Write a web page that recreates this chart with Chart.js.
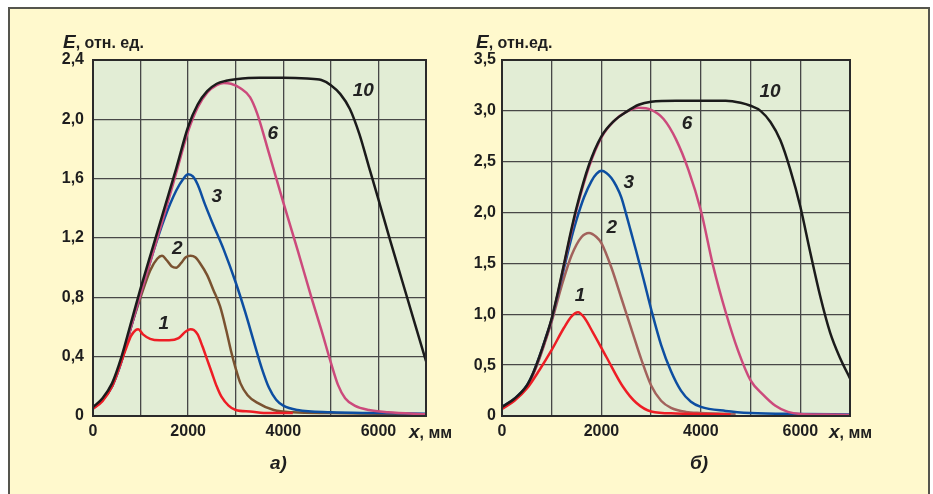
<!DOCTYPE html>
<html>
<head>
<meta charset="utf-8">
<script src="https://cdn.jsdelivr.net/npm/chart.js@4/dist/chart.umd.min.js"></script>
<style>
  body { margin: 0; background: #ffffff; width: 933px; height: 494px; overflow: hidden; position: relative; font-family: "Liberation Sans", Arial, sans-serif; }
  #frame { position: absolute; left: 8px; top: 7px; width: 918px; height: 500px; background: #fff9cd; border: 2px solid #55554d; }
  canvas { position: absolute; top: 0; }
  .txt { position: absolute; font-weight: bold; font-size: 16px; color: #1e1e1e; white-space: nowrap; line-height: 20px; }
  .txt i { font-size: 19px; }
</style>
</head>
<body>
<div id="frame"></div>
<canvas id="chart-a" width="466" height="494" style="left:0"></canvas>
<canvas id="chart-b" width="467" height="494" style="left:466px"></canvas>

<div class="txt" style="left:63px; top:32px"><i>E</i>, отн. ед.</div>
<div class="txt" style="left:476px; top:32px"><i>E</i>, отн.ед.</div>
<div class="txt" style="left:409px; top:422px"><i>x</i>, мм</div>
<div class="txt" style="left:829px; top:422px"><i>x</i>, мм</div>
<div class="txt" style="left:270px; top:453px"><i>а)</i></div>
<div class="txt" style="left:690px; top:453px"><i>б)</i></div>

<script>
"use strict"

// ---- chart а) ----
const aYTicks = ['0', '0,4', '0,8', '1,2', '1,6', '2,0', '2,4'];
const xTicks = ['0', '2000', '4000', '6000'];

const a10X = [0, 200, 400, 600, 800, 1000, 1250, 1500, 1750, 2000, 2200, 2400, 2600, 2800, 3000, 3500, 4000, 4500, 4800, 5000, 5200, 5400, 5600, 5800, 6000, 6250, 6500, 6750, 7000];
const a10E = [0.06, 0.12, 0.22, 0.40, 0.63, 0.86, 1.13, 1.40, 1.67, 1.95, 2.10, 2.19, 2.24, 2.26, 2.27, 2.28, 2.28, 2.275, 2.265, 2.23, 2.17, 2.07, 1.90, 1.68, 1.46, 1.18, 0.91, 0.64, 0.37];

const a6X = [0, 200, 400, 600, 800, 1000, 1250, 1500, 1750, 2000, 2200, 2400, 2600, 2750, 2900, 3100, 3300, 3450, 3700, 4000, 4300, 4600, 4800, 5000, 5150, 5300, 5500, 5800, 6200, 7000];
const a6E = [0.05, 0.11, 0.20, 0.37, 0.60, 0.82, 1.09, 1.36, 1.64, 1.92, 2.08, 2.18, 2.23, 2.245, 2.24, 2.21, 2.15, 2.04, 1.77, 1.44, 1.12, 0.79, 0.58, 0.36, 0.21, 0.12, 0.07, 0.04, 0.025, 0.012];

const a3X = [0, 200, 400, 600, 800, 1000, 1250, 1500, 1750, 1900, 2000, 2100, 2200, 2350, 2500, 2750, 3000, 3200, 3400, 3550, 3700, 3850, 4000, 4300, 5000, 6000, 7000];
const a3E = [0.05, 0.11, 0.20, 0.37, 0.60, 0.82, 1.09, 1.33, 1.52, 1.60, 1.63, 1.615, 1.56, 1.43, 1.31, 1.12, 0.90, 0.70, 0.48, 0.32, 0.19, 0.11, 0.07, 0.04, 0.025, 0.02, 0.015];

const a2X = [0, 200, 400, 600, 800, 1000, 1200, 1350, 1450, 1550, 1650, 1750, 1850, 1950, 2050, 2150, 2250, 2400, 2530, 2670, 2800, 2900, 3000, 3100, 3250, 3450, 3800, 4200, 5000, 6000, 7000];
const a2E = [0.05, 0.11, 0.20, 0.37, 0.60, 0.80, 0.98, 1.06, 1.08, 1.05, 1.01, 1.00, 1.03, 1.07, 1.08, 1.07, 1.03, 0.95, 0.85, 0.74, 0.58, 0.44, 0.32, 0.22, 0.14, 0.09, 0.04, 0.025, 0.02, 0.015, 0.01];

const a1X = [0, 200, 400, 550, 700, 800, 900, 950, 1050, 1200, 1400, 1600, 1800, 1950, 2050, 2120, 2200, 2300, 2400, 2500, 2600, 2700, 2850, 3000, 3300, 3700, 4200];
const a1E = [0.05, 0.10, 0.20, 0.33, 0.46, 0.54, 0.58, 0.585, 0.55, 0.52, 0.51, 0.51, 0.525, 0.57, 0.585, 0.58, 0.55, 0.47, 0.38, 0.29, 0.20, 0.13, 0.07, 0.04, 0.03, 0.02, 0.02];

const aLabelText = ['10', '6', '3', '2', '1'];
const aLabelX = [5680, 3780, 2600, 1770, 1490];
const aLabelE = [2.19, 1.90, 1.48, 1.13, 0.62];

// ---- chart б) ----
const bYTicks = ['0', '0,5', '1,0', '1,5', '2,0', '2,5', '3,0', '3,5'];

const b10X = [0, 250, 500, 625, 750, 875, 1000, 1125, 1250, 1375, 1500, 1750, 2000, 2250, 2500, 2750, 3000, 3500, 4000, 4500, 4800, 5000, 5200, 5400, 5600, 5800, 6000, 6200, 6400, 6600, 6800, 7000];
const b10E = [0.09, 0.17, 0.30, 0.42, 0.58, 0.76, 0.96, 1.22, 1.50, 1.79, 2.05, 2.47, 2.75, 2.90, 2.99, 3.06, 3.09, 3.10, 3.10, 3.10, 3.08, 3.05, 3.00, 2.89, 2.71, 2.42, 2.06, 1.61, 1.18, 0.82, 0.57, 0.37];

const b6X = [0, 250, 500, 625, 750, 875, 1000, 1125, 1250, 1375, 1500, 1750, 2000, 2250, 2500, 2750, 3000, 3250, 3500, 3750, 4000, 4250, 4500, 4750, 5000, 5250, 5500, 5750, 6000, 6500, 7000];
const b6E = [0.08, 0.16, 0.29, 0.41, 0.57, 0.75, 0.95, 1.21, 1.49, 1.77, 2.03, 2.45, 2.74, 2.90, 2.99, 3.03, 3.01, 2.92, 2.72, 2.42, 2.02, 1.47, 1.02, 0.64, 0.35, 0.21, 0.10, 0.04, 0.02, 0.015, 0.01];

const b3X = [0, 250, 500, 625, 750, 875, 1000, 1125, 1250, 1375, 1500, 1650, 1800, 1900, 2000, 2100, 2200, 2300, 2400, 2500, 2600, 2700, 2850, 3000, 3200, 3400, 3600, 3800, 4000, 4500, 5000, 6000, 7000];
const b3E = [0.09, 0.17, 0.30, 0.42, 0.58, 0.76, 0.95, 1.20, 1.46, 1.71, 1.93, 2.15, 2.31, 2.38, 2.41, 2.39, 2.34, 2.26, 2.15, 1.98, 1.80, 1.62, 1.34, 1.05, 0.70, 0.44, 0.25, 0.14, 0.09, 0.05, 0.03, 0.02, 0.015];

const b2X = [0, 250, 500, 625, 750, 875, 1000, 1200, 1400, 1600, 1750, 1900, 2000, 2200, 2400, 2600, 2800, 3000, 3200, 3400, 3700, 4000, 4700];
const b2E = [0.08, 0.16, 0.29, 0.41, 0.56, 0.74, 0.93, 1.28, 1.58, 1.76, 1.80, 1.76, 1.70, 1.46, 1.16, 0.86, 0.56, 0.30, 0.15, 0.08, 0.04, 0.03, 0.02];

const b1X = [0, 250, 500, 750, 1000, 1250, 1400, 1530, 1650, 1830, 2100, 2430, 2700, 3000, 3500, 4000, 4600];
const b1E = [0.07, 0.15, 0.27, 0.45, 0.65, 0.87, 0.98, 1.02, 0.97, 0.82, 0.58, 0.29, 0.13, 0.045, 0.025, 0.02, 0.015];

const bLabelText = ['10', '6', '3', '2', '1'];
const bLabelX = [5390, 3720, 2550, 2210, 1570];
const bLabelE = [3.19, 2.87, 2.29, 1.85, 1.18];

const FONT = '"Liberation Sans", Arial, sans-serif';

function pts(xs, es) {
    return xs.map((x, i) => ({ x: x, y: es[i] }));
}

function line(xs, es, color) {
    return {
        data: pts(xs, es),
        borderColor: color,
        borderWidth: 2.5,
        pointRadius: 0,
        fill: false,
        cubicInterpolationMode: 'monotone'
    };
}

/**
 * Green plot background, dark frame and the curve numbers
 */
const plotDecor = {
    id: 'plotDecor',
    beforeDraw(chart) {
        const a = chart.chartArea;
        const ctx = chart.ctx;
        ctx.save();
        ctx.fillStyle = '#e2edd5';
        ctx.fillRect(a.left, a.top, a.right - a.left, a.bottom - a.top);
        ctx.restore();
    },
    afterDatasetsDraw(chart, args, opts) {
        const ctx = chart.ctx;
        const a = chart.chartArea;
        ctx.save();
        ctx.strokeStyle = '#2a2a2a';
        ctx.lineWidth = 2;
        ctx.strokeRect(a.left, a.top, a.right - a.left, a.bottom - a.top);

        ctx.fillStyle = '#222';
        ctx.font = 'italic bold 19px ' + FONT;
        ctx.textAlign = 'center';
        ctx.textBaseline = 'middle';
        opts.text.forEach((t, i) => {
            const px = chart.scales.x.getPixelForValue(opts.xs[i]);
            const py = chart.scales.y.getPixelForValue(opts.es[i]);
            ctx.fillText(t, px, py);
        });
        ctx.restore();
    }
};

function makeChart(id, datasets, yMax, yStep, yTicks, yWidth, yPad, padRight, labels) {
    return new Chart(document.getElementById(id), {
        type: 'line',
        data: { datasets: datasets },
        options: {
            responsive: false,
            animation: false,
            devicePixelRatio: 1,
            layout: { padding: { left: 0, right: padRight, top: 60, bottom: 0 } },
            plugins: {
                legend: { display: false },
                tooltip: { enabled: false },
                plotDecor: labels
            },
            scales: {
                x: {
                    type: 'linear',
                    min: 0,
                    max: 7000,
                    afterFit: s => { s.height = 78; },
                    afterBuildTicks: s => { s.ticks = [0, 1000, 2000, 3000, 4000, 5000, 6000, 7000].map(v => ({ value: v })); },
                    grid: { color: '#474747', lineWidth: 1.3, drawTicks: false },
                    border: { display: false },
                    ticks: {
                        padding: 6,
                        color: '#1e1e1e',
                        font: { family: FONT, size: 16, weight: 'bold' },
                        maxRotation: 0,
                        autoSkip: false,
                        callback: v => xTicks[xTicks.indexOf(String(v))] || ''
                    }
                },
                y: {
                    min: 0,
                    max: yMax,
                    afterFit: s => { s.width = yWidth; },
                    grid: { color: '#474747', lineWidth: 1.3, drawTicks: false },
                    border: { display: false },
                    ticks: {
                        stepSize: yStep,
                        padding: yPad,
                        color: '#1e1e1e',
                        font: { family: FONT, size: 16, weight: 'bold' },
                        callback: (v, i) => yTicks[i]
                    }
                }
            }
        },
        plugins: [plotDecor]
    });
}

makeChart('chart-a', [
    line(a10X, a10E, '#1b1b1b'),
    line(a1X, a1E, '#ee1d25'),
    line(a6X, a6E, '#cc4a7c'),
    line(a3X, a3E, '#0d4ea1'),
    line(a2X, a2E, '#7a5230')
], 2.4, 0.4, aYTicks, 93, 9, 40, { text: aLabelText, xs: aLabelX, es: aLabelE });

makeChart('chart-b', [
    line(b10X, b10E, '#1b1b1b'),
    line(b1X, b1E, '#ee1d25'),
    line(b6X, b6E, '#cc4a7c'),
    line(b3X, b3E, '#0d4ea1'),
    line(b2X, b2E, '#a2625c')
], 3.5, 0.5, bYTicks, 36, 6, 83, { text: bLabelText, xs: bLabelX, es: bLabelE });
</script>
</body>
</html>
